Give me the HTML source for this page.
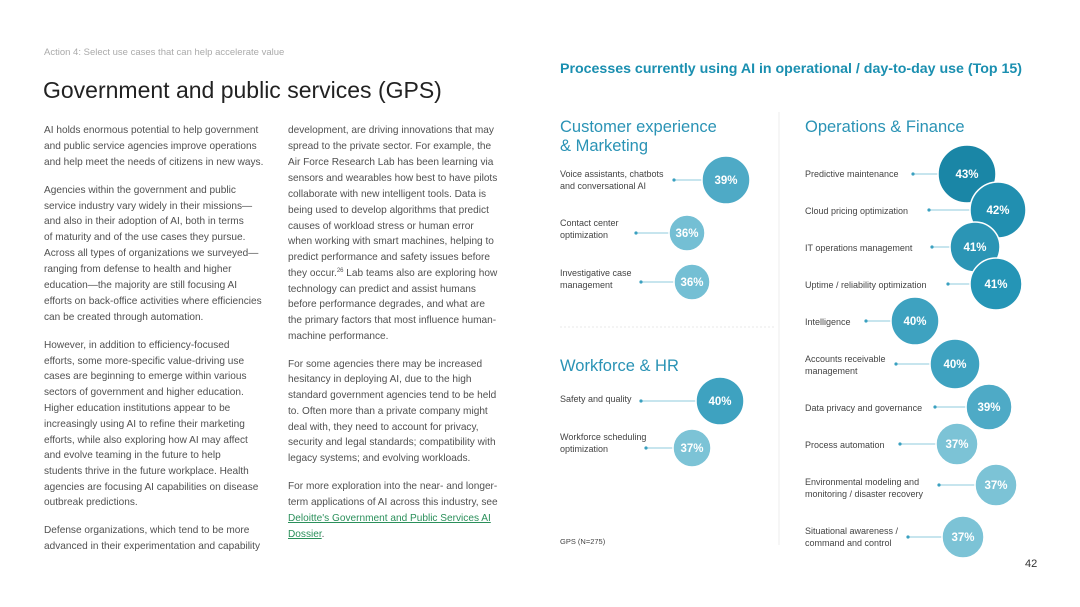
<!DOCTYPE html>
<html><head><meta charset="utf-8"><style>
body{margin:0;width:1080px;height:607px;background:#fff;position:relative;overflow:hidden;font-family:"Liberation Sans",sans-serif;}
.l{position:absolute;white-space:nowrap;font-size:10.1px;color:#505050;line-height:14px;}
.a{position:absolute;white-space:nowrap;}
sup{font-size:6px;line-height:0;position:relative;top:-4px;vertical-align:baseline;}
</style></head><body>
<div class="a" style="left:44px;top:47px;font-size:9.5px;color:#aaa;">Action 4: Select use cases that can help accelerate value</div>
<div class="a" style="left:43px;top:77px;font-size:23px;color:#222;">Government and public services (GPS)</div>
<div class="a" style="left:560px;top:61px;font-size:14.2px;font-weight:bold;color:#1a8fb0;">Processes currently using AI in operational / day-to-day use (Top 15)</div>

<div class="l" style="left:44px;top:124px">AI holds enormous potential to help government</div>
<div class="l" style="left:44px;top:140px">and public service agencies improve operations</div>
<div class="l" style="left:44px;top:156px">and help meet the needs of citizens in new ways.</div>
<div class="l" style="left:44px;top:184px">Agencies within the government and public</div>
<div class="l" style="left:44px;top:200px">service industry vary widely in their missions—</div>
<div class="l" style="left:44px;top:215px">and also in their adoption of AI, both in terms</div>
<div class="l" style="left:44px;top:231px">of maturity and of the use cases they pursue.</div>
<div class="l" style="left:44px;top:247px">Across all types of organizations we surveyed—</div>
<div class="l" style="left:44px;top:263px">ranging from defense to health and higher</div>
<div class="l" style="left:44px;top:279px">education—the majority are still focusing AI</div>
<div class="l" style="left:44px;top:295px">efforts on back-office activities where efficiencies</div>
<div class="l" style="left:44px;top:311px">can be created through automation.</div>
<div class="l" style="left:44px;top:339px">However, in addition to efficiency-focused</div>
<div class="l" style="left:44px;top:355px">efforts, some more-specific value-driving use</div>
<div class="l" style="left:44px;top:370px">cases are beginning to emerge within various</div>
<div class="l" style="left:44px;top:386px">sectors of government and higher education.</div>
<div class="l" style="left:44px;top:402px">Higher education institutions appear to be</div>
<div class="l" style="left:44px;top:418px">increasingly using AI to refine their marketing</div>
<div class="l" style="left:44px;top:434px">efforts, while also exploring how AI may affect</div>
<div class="l" style="left:44px;top:449px">and evolve teaming in the future to help</div>
<div class="l" style="left:44px;top:465px">students thrive in the future workplace. Health</div>
<div class="l" style="left:44px;top:481px">agencies are focusing AI capabilities on disease</div>
<div class="l" style="left:44px;top:496px">outbreak predictions.</div>
<div class="l" style="left:44px;top:524px">Defense organizations, which tend to be more</div>
<div class="l" style="left:44px;top:540px">advanced in their experimentation and capability</div>

<div class="l" style="left:288px;top:124px">development, are driving innovations that may</div>
<div class="l" style="left:288px;top:140px">spread to the private sector. For example, the</div>
<div class="l" style="left:288px;top:156px">Air Force Research Lab has been learning via</div>
<div class="l" style="left:288px;top:172px">sensors and wearables how best to have pilots</div>
<div class="l" style="left:288px;top:188px">collaborate with new intelligent tools. Data is</div>
<div class="l" style="left:288px;top:204px">being used to develop algorithms that predict</div>
<div class="l" style="left:288px;top:220px">causes of workload stress or human error</div>
<div class="l" style="left:288px;top:235px">when working with smart machines, helping to</div>
<div class="l" style="left:288px;top:251px">predict performance and safety issues before</div>
<div class="l" style="left:288px;top:267px">they occur.<sup>26</sup> Lab teams also are exploring how</div>
<div class="l" style="left:288px;top:283px">technology can predict and assist humans</div>
<div class="l" style="left:288px;top:298px">before performance degrades, and what are</div>
<div class="l" style="left:288px;top:314px">the primary factors that most influence human-</div>
<div class="l" style="left:288px;top:330px">machine performance.</div>
<div class="l" style="left:288px;top:358px">For some agencies there may be increased</div>
<div class="l" style="left:288px;top:373px">hesitancy in deploying AI, due to the high</div>
<div class="l" style="left:288px;top:389px">standard government agencies tend to be held</div>
<div class="l" style="left:288px;top:405px">to. Often more than a private company might</div>
<div class="l" style="left:288px;top:421px">deal with, they need to account for privacy,</div>
<div class="l" style="left:288px;top:436px">security and legal standards; compatibility with</div>
<div class="l" style="left:288px;top:452px">legacy systems; and evolving workloads.</div>
<div class="l" style="left:288px;top:480px">For more exploration into the near- and longer-</div>
<div class="l" style="left:288px;top:496px">term applications of AI across this industry, see</div>
<div class="l" style="left:288px;top:512px;color:#2a8f5a;text-decoration:underline">Deloitte's Government and Public Services AI</div>
<div class="l" style="left:288px;top:528px"><span style="color:#2a8f5a;text-decoration:underline">Dossier</span>.</div>

<svg class="a" style="left:0;top:0" width="1080" height="607" font-family="Liberation Sans, sans-serif">
<line x1="779" y1="112" x2="779" y2="545" stroke="#eee" stroke-width="1"/>
<line x1="560" y1="327" x2="775" y2="327" stroke="#e8e8e8" stroke-dasharray="2,2"/>
<text x="560" y="132" font-size="16.5" fill="#2a93b5">Customer experience</text>
<text x="560" y="151" font-size="16.5" fill="#2a93b5">&amp; Marketing</text>
<text x="805" y="132" font-size="16.5" fill="#2a93b5">Operations &amp; Finance</text>
<text x="560" y="371" font-size="16.5" fill="#2a93b5">Workforce &amp; HR</text>
<g font-size="9" fill="#444">
<text x="560" y="177">Voice assistants, chatbots</text><text x="560" y="189">and conversational AI</text>
<text x="560" y="226">Contact center</text><text x="560" y="238">optimization</text>
<text x="560" y="276">Investigative case</text><text x="560" y="288">management</text>
<text x="560" y="402">Safety and quality</text>
<text x="560" y="440">Workforce scheduling</text><text x="560" y="452">optimization</text>
<text x="805" y="177">Predictive maintenance</text>
<text x="805" y="214">Cloud pricing optimization</text>
<text x="805" y="251">IT operations management</text>
<text x="805" y="288">Uptime / reliability optimization</text>
<text x="805" y="325">Intelligence</text>
<text x="805" y="362">Accounts receivable</text><text x="805" y="374">management</text>
<text x="805" y="411">Data privacy and governance</text>
<text x="805" y="448">Process automation</text>
<text x="805" y="485">Environmental modeling and</text><text x="805" y="497">monitoring / disaster recovery</text>
<text x="805" y="534">Situational awareness /</text><text x="805" y="546">command and control</text>
<text x="560" y="544" font-size="7.5">GPS (N=275)</text>
<text x="1025" y="567" font-size="11" fill="#333">42</text>
</g>
<g stroke="#8fcbdc" stroke-width="1">
<line x1="674" y1="180" x2="705" y2="180"/><line x1="636" y1="233" x2="670" y2="233"/><line x1="641" y1="282" x2="676" y2="282"/>
<line x1="641" y1="401" x2="697" y2="401"/><line x1="646" y1="448" x2="675" y2="448"/>
<line x1="913" y1="174" x2="940" y2="174"/><line x1="929" y1="210" x2="972" y2="210"/><line x1="932" y1="247" x2="952" y2="247"/>
<line x1="948" y1="284" x2="972" y2="284"/><line x1="866" y1="321" x2="892" y2="321"/><line x1="896" y1="364" x2="932" y2="364"/>
<line x1="935" y1="407" x2="967" y2="407"/><line x1="900" y1="444" x2="937" y2="444"/><line x1="939" y1="485" x2="976" y2="485"/><line x1="908" y1="537" x2="943" y2="537"/>
</g>
<g fill="#3aa0c0">
<circle cx="674" cy="180" r="1.6"/><circle cx="636" cy="233" r="1.6"/><circle cx="641" cy="282" r="1.6"/><circle cx="641" cy="401" r="1.6"/><circle cx="646" cy="448" r="1.6"/>
<circle cx="913" cy="174" r="1.6"/><circle cx="929" cy="210" r="1.6"/><circle cx="932" cy="247" r="1.6"/><circle cx="948" cy="284" r="1.6"/><circle cx="866" cy="321" r="1.6"/><circle cx="896" cy="364" r="1.6"/><circle cx="935" cy="407" r="1.6"/><circle cx="900" cy="444" r="1.6"/><circle cx="939" cy="485" r="1.6"/><circle cx="908" cy="537" r="1.6"/>
</g>
<g stroke="#fff" stroke-width="1.5">
<circle cx="726" cy="180" r="24" fill="#4eaac6"/>
<circle cx="687" cy="233" r="18" fill="#74bfd4"/>
<circle cx="692" cy="282" r="18" fill="#74bfd4"/>
<circle cx="720" cy="401" r="24" fill="#3ea2c0"/>
<circle cx="692" cy="448" r="19" fill="#7cc3d6"/>
<circle cx="967" cy="174" r="29" fill="#1a86a6"/>
<circle cx="998" cy="210" r="28" fill="#218fb0"/>
<circle cx="975" cy="247" r="25" fill="#2b95b5"/>
<circle cx="996" cy="284" r="26" fill="#2595b6"/>
<circle cx="915" cy="321" r="24" fill="#3ea2c0"/>
<circle cx="955" cy="364" r="25" fill="#3ea2c0"/>
<circle cx="989" cy="407" r="23" fill="#4eaac6"/>
<circle cx="957" cy="444" r="21" fill="#7cc3d6"/>
<circle cx="996" cy="485" r="21" fill="#7cc3d6"/>
<circle cx="963" cy="537" r="21" fill="#7cc3d6"/>
</g>
<g fill="#fff" font-size="11.5" font-weight="bold" text-anchor="middle">
<text x="726" y="184">39%</text><text x="687" y="237">36%</text><text x="692" y="286">36%</text><text x="720" y="405">40%</text><text x="692" y="452">37%</text>
<text x="967" y="178">43%</text><text x="998" y="214">42%</text><text x="975" y="251">41%</text><text x="996" y="288">41%</text><text x="915" y="325">40%</text>
<text x="955" y="368">40%</text><text x="989" y="411">39%</text><text x="957" y="448">37%</text><text x="996" y="489">37%</text><text x="963" y="541">37%</text>
</g>
</svg>
</body></html>
